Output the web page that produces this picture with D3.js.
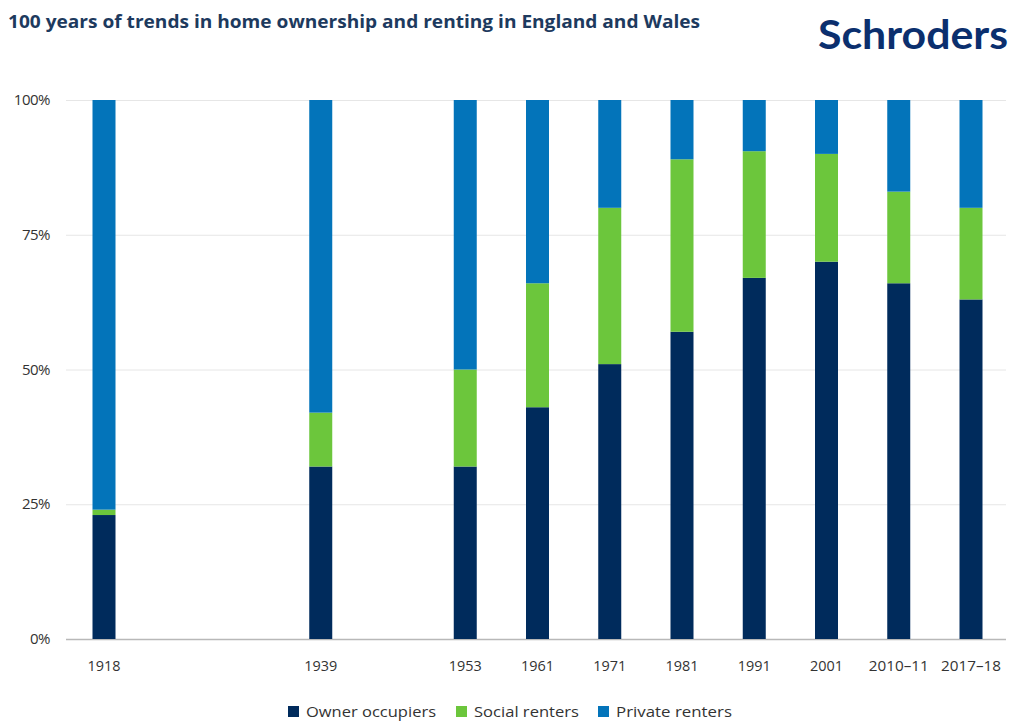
<!DOCTYPE html>
<html><head><meta charset="utf-8">
<script src="https://cdn.jsdelivr.net/npm/d3@7"></script>
<style>body{margin:0;background:#fff;}svg{display:block;}</style>
</head><body>
<svg id="c" width="1012" height="721"></svg>
<script>
const categories = ["1918","1939","1953","1961","1971","1981","1991","2001","2010–11","2017–18"];
const slots      = [0, 3, 5, 6, 7, 8, 9, 10, 11, 12];
const ownerOccupiers = [23, 32, 32, 43, 51, 57, 67, 70, 66, 63];
const socialRenters  = [1, 10, 18, 23, 29, 32, 23.5, 20, 17, 17];
const privateRenters = [76, 58, 50, 34, 20, 11, 9.5, 10, 17, 20];
const seriesNames = ["Owner occupiers","Social renters","Private renters"];
const seriesColors = ["#002b5c","#6cc63c","#0374ba"];
const yTicks = [0, 25, 50, 75, 100];
const title = "100 years of trends in home ownership and renting in England and Wales";

const svg = d3.select("#c");
const rows = categories.map((c,i)=>({cat:c, slot:slots[i], "Owner occupiers":ownerOccupiers[i], "Social renters":socialRenters[i], "Private renters":privateRenters[i]}));
const stack = d3.stack().keys(seriesNames)(rows);

const x = d3.scaleLinear().domain([0,12]).range([104,971]);
const y = d3.scaleLinear().domain([0,100]).range([639,100]);
const barW = 23;

// gridlines
svg.append("g").selectAll("line").data(yTicks).join("line")
  .attr("x1",66).attr("x2",1006)
  .attr("y1",d=>y(d)+0.5).attr("y2",d=>y(d)+0.5)
  .attr("stroke",d=>d===0?"#b8b8b8":"#e6e6e6").attr("stroke-width",d=>d===0?1.5:1);

// y labels
svg.append("g").selectAll("text").data(yTicks).join("text")
  .attr("x",50).attr("y",d=>y(d)+5).attr("text-anchor","end")
  .attr("font-family","Open Sans, sans-serif").attr("font-size",15).attr("fill","#333")
  .attr("letter-spacing",-0.5)
  .text(d=>d+"%");

// bars
const col = d3.scaleOrdinal().domain(seriesNames).range(seriesColors);
svg.append("g").selectAll("g").data(stack).join("g").attr("fill",s=>col(s.key))
  .selectAll("rect").data(s=>s).join("rect")
  .attr("x",d=>x(d.data.slot)-barW/2).attr("width",barW)
  .attr("y",d=>y(d[1])).attr("height",d=>y(d[0])-y(d[1]));

// x labels
svg.append("g").selectAll("text").data(rows).join("text")
  .attr("x",d=>x(d.slot)).attr("y",671).attr("text-anchor","middle")
  .attr("font-family","Open Sans, sans-serif").attr("font-size",15).attr("fill","#333")
  .attr("textLength",d=>d.cat.length>4?60:33).attr("lengthAdjust","spacingAndGlyphs")
  .text(d=>d.cat);

// title
svg.append("text").attr("x",8).attr("y",28)
  .attr("font-family","Open Sans, sans-serif").attr("font-weight",700).attr("font-size",18)
  .attr("fill","#1d3a5e").attr("textLength",692).attr("lengthAdjust","spacingAndGlyphs")
  .text(title);

// logo
svg.append("text").attr("x",818).attr("y",49)
  .attr("font-family","Lato, sans-serif").attr("font-weight",700).attr("font-size",41)
  .attr("fill","#0b2f6e").attr("textLength",190).attr("lengthAdjust","spacingAndGlyphs")
  .text("Schroders");

// legend
const legX = [288, 456, 598];
const legW = [130, 105, 116];
const lg = svg.append("g").selectAll("g").data(seriesNames).join("g")
  .attr("transform",(d,i)=>`translate(${legX[i]},706)`);
lg.append("rect").attr("width",11).attr("height",11).attr("y",0).attr("fill",d=>col(d));
lg.append("text").attr("x",18).attr("y",11)
  .attr("font-family","Open Sans, sans-serif").attr("font-size",15).attr("fill","#333")
  .attr("textLength",(d,i)=>legW[i]).attr("lengthAdjust","spacingAndGlyphs")
  .text(d=>d);
</script>
</body></html>
